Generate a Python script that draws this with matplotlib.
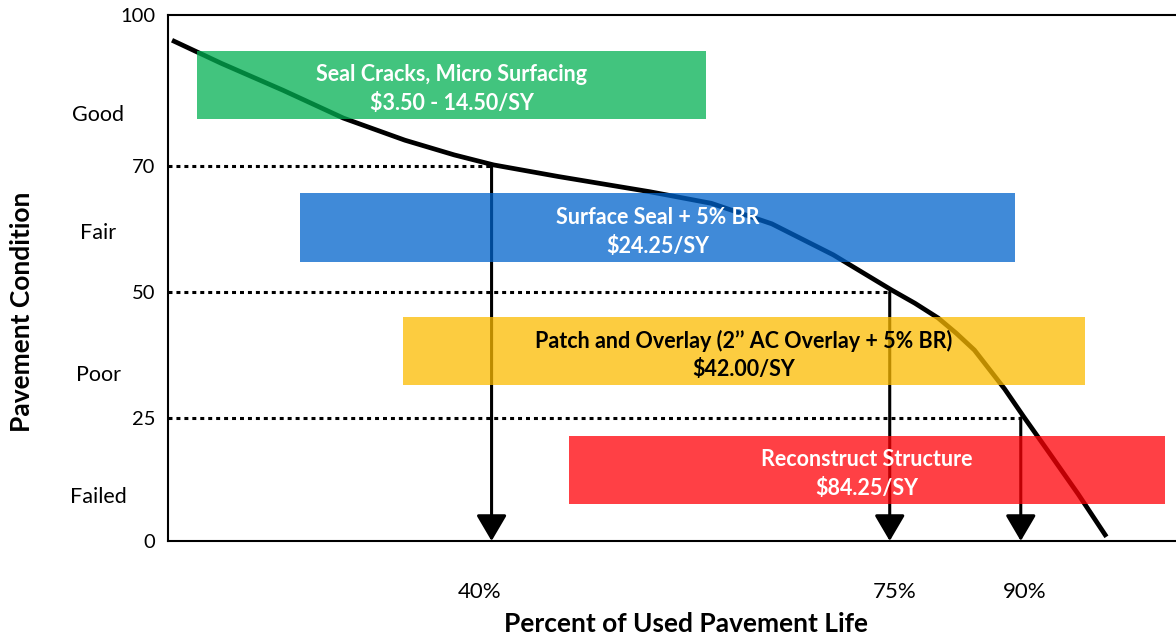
import matplotlib
matplotlib.use('Agg')
import matplotlib.pyplot as plt
from matplotlib.patches import Rectangle
from matplotlib.transforms import blended_transform_factory

FONT = 'Lato'
plt.rcParams['font.family'] = [FONT, 'DejaVu Sans']

# schematic chart units (both axes 0..100)
curve_x = [0.4, 5.3, 11.4, 17.4, 23.5, 28.4, 32.3, 38.7, 47.8, 53.9, 59.9, 66.0,
           71.8, 74.1, 76.4, 78.2, 80.0, 83.0, 84.9, 87.3, 90.3, 93.1]
curve_y = [95.2, 90.8, 85.7, 80.4, 76.2, 73.4, 71.5, 69.3, 66.4, 64.2, 60.3, 54.4,
           47.7, 45.2, 42.4, 39.5, 36.3, 28.9, 23.6, 17.1, 8.9, 0.8]

ytick_pos = [0, 23.4, 47.3, 71.3, 100]
ytick_labels = ['0', '25', '50', '70', '100']
cond_pos = [81.0, 58.6, 31.6, 8.4]
cond_labels = ['Good', 'Fair', 'Poor', 'Failed']

# threshold arrows: x position, level, label and where the label sits
arrow_x = [32.1, 71.6, 84.6]
arrow_y = [71.3, 47.3, 23.4]
arrow_labels = ['40%', '75%', '90%']
label_x = [30.9, 72.1, 85.0]

box_names = ['Seal Cracks, Micro Surfacing\n$3.50 - 14.50/SY',
             'Surface Seal + 5% BR\n$24.25/SY',
             'Patch and Overlay (2\u2019\u2019 AC Overlay + 5% BR)\n$42.00/SY',
             'Reconstruct Structure\n$84.25/SY']
box_x0 = [2.9, 13.1, 23.3, 39.8]
box_x1 = [53.4, 84.0, 91.0, 98.9]
box_y0 = [80.2, 53.0, 29.7, 7.0]
box_y1 = [93.2, 66.2, 42.6, 20.0]
box_colors = ['#02B053', '#0063CB', '#FCBB00', '#FF0006']
text_colors = ['white', 'white', 'black', 'white']

fig = plt.figure(figsize=(11.76, 6.39), dpi=100)
ax = fig.add_axes([168 / 1176, 1 - 541 / 639, 1 - 168 / 1176, 526 / 639])
ax.set_xlim(0, 100)
ax.set_ylim(0, 100)

ax.plot(curve_x, curve_y, color='black', lw=3.4, solid_capstyle='butt',
        solid_joinstyle='round', zorder=2)

for x, y in zip(arrow_x, arrow_y):
    ax.plot([0, x], [y, y], color='black', lw=2.2, linestyle=(0, (1.3, 1.3)), zorder=2)
    ax.annotate('', xy=(x, 0), xytext=(x, y),
                arrowprops=dict(arrowstyle='-|>,head_length=0.8,head_width=0.47',
                                mutation_scale=20, lw=2.2, color='black',
                                shrinkA=0, shrinkB=0), zorder=2)

for name, x0, x1, y0, y1, c, tc in zip(box_names, box_x0, box_x1, box_y0, box_y1,
                                       box_colors, text_colors):
    ax.add_patch(Rectangle((x0, y0), x1 - x0, y1 - y0, facecolor=c, edgecolor='none',
                           alpha=0.75, zorder=3))
    ax.text((x0 + x1) / 2, (y0 + y1) / 2 - 0.8, name, ha='center', va='center',
            color=tc, fontsize=15.5, fontweight='bold', linespacing=1.45, zorder=4)

ax.set_yticks(ytick_pos)
ax.set_yticklabels(ytick_labels, fontsize=14.5)
ax.set_xticks([])
ax.tick_params(axis='y', length=0, pad=9)

ytr = ax.get_yaxis_transform()
for y, lab in zip(cond_pos, cond_labels):
    ax.text(-0.0694, y, lab, transform=ytr, ha='center', va='center', fontsize=15.5)

xtr = blended_transform_factory(ax.transData, ax.transAxes)
for x, lab in zip(label_x, arrow_labels):
    ax.text(x, -0.097, lab, transform=xtr, ha='center', va='center', fontsize=16)

ax.text(0.514, -0.158, 'Percent of Used Pavement Life', transform=ax.transAxes,
        ha='center', va='center', fontsize=19, fontweight='bold')
ax.text(-0.1445, 0.436, 'Pavement Condition', transform=ax.transAxes, rotation=90,
        ha='center', va='center', fontsize=19, fontweight='bold')

for s in ['left', 'bottom', 'top']:
    ax.spines[s].set_linewidth(1.5)
ax.spines['right'].set_visible(False)

fig.savefig('out.png', dpi=100)
